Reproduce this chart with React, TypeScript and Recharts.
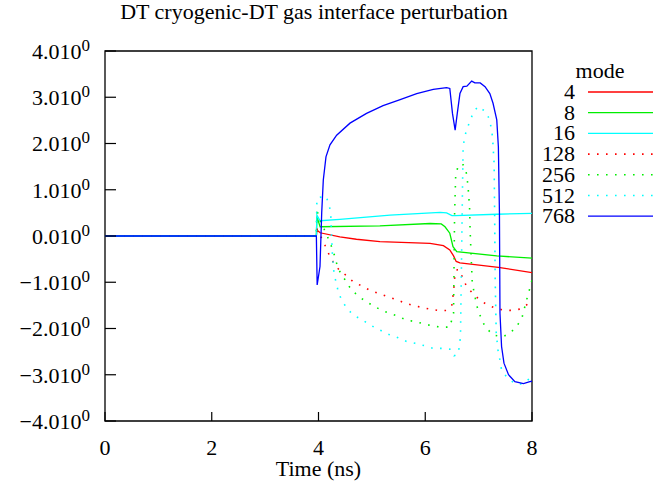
import React from "react";
import { LineChart, Line, XAxis, YAxis, ReferenceArea, Label } from "recharts";

const FONT = '"Liberation Serif", "Times New Roman", serif';

const xTicks = [0, 2, 4, 6, 8];
const yTicks = [-4, -3, -2, -1, 0, 1, 2, 3, 4];
const yTickLabels = [
  "\u22124.010",
  "\u22123.010",
  "\u22122.010",
  "\u22121.010",
  "0.010",
  "1.010",
  "2.010",
  "3.010",
  "4.010",
];
const yTickExp = "0";

const title = "DT cryogenic-DT gas interface perturbation";
const xLabel = "Time (ns)";
const legendTitle = "mode";

// [time (ns), amplitude]
const mode4 = [
  [0, 0], [3.96, 0], [3.97, 0.13], [4.03, 0.07], [4.4, -0.02], [4.71, -0.07],
  [5.15, -0.12], [6.09, -0.16], [6.34, -0.21], [6.46, -0.3], [6.53, -0.43],
  [6.58, -0.55], [6.65, -0.58], [7.37, -0.68], [8.0, -0.79],
];
const mode8 = [
  [0, 0], [3.96, 0], [3.97, 0.42], [4.03, 0.2], [5.15, 0.22], [6.09, 0.27],
  [6.3, 0.26], [6.37, 0.2], [6.46, 0.06], [6.52, -0.23], [6.59, -0.34],
  [7.34, -0.43], [8.0, -0.48],
];
const mode16 = [
  [0, 0], [3.96, 0], [3.97, 0.45], [4.03, 0.33], [4.4, 0.36], [5.34, 0.45],
  [6.28, 0.51], [6.4, 0.5], [6.5, 0.44], [6.56, 0.44], [7.34, 0.47], [8.0, 0.49],
];
const mode128 = [
  [0, 0], [3.96, 0], [3.98, 0.13], [4.0, 0.09], [4.08, -0.1], [4.15, -0.27],
  [4.215, -0.45], [4.31, -0.63], [4.4, -0.75], [4.53, -0.86], [4.65, -0.99],
  [4.81, -1.08], [4.96, -1.17], [5.12, -1.24], [5.29, -1.31], [5.45, -1.37],
  [5.6, -1.44], [5.76, -1.5], [5.92, -1.54], [6.08, -1.58], [6.24, -1.61],
  [6.4, -1.61], [6.5, -1.49], [6.53, -1.2], [6.56, -0.78], [6.6, -0.73],
  [6.65, -0.74], [6.7, -0.91], [6.78, -1.1], [6.89, -1.24], [7.01, -1.37],
  [7.15, -1.48], [7.31, -1.56], [7.46, -1.6], [7.62, -1.61], [7.78, -1.58],
  [7.9, -1.49], [8.0, -1.36],
];
const mode256 = [
  [0, 0], [3.96, 0], [3.97, 0.6], [4.0, 0.4], [4.07, 0.24], [4.14, 0.06],
  [4.215, -0.14], [4.28, -0.34], [4.33, -0.56], [4.39, -0.75], [4.45, -0.86],
  [4.53, -1.01], [4.62, -1.17], [4.75, -1.3], [4.89, -1.42], [5.03, -1.51],
  [5.17, -1.6], [5.33, -1.67], [5.48, -1.73], [5.65, -1.82], [5.81, -1.85],
  [5.98, -1.9], [6.15, -1.95], [6.31, -1.97], [6.46, -1.97], [6.53, -1.67],
  [6.55, 0.5], [6.57, 1.3], [6.62, 1.54], [6.71, 1.54], [6.76, 1.44],
  [6.8, 1.1], [6.83, 0.63], [6.84, 0.15], [6.86, -0.45], [6.88, -1.0],
  [6.92, -1.25], [6.99, -1.62], [7.12, -1.96], [7.27, -2.14], [7.45, -2.18],
  [7.59, -2.1], [7.71, -1.96], [7.81, -1.78], [7.89, -1.42], [7.95, -1.17],
  [8.0, -0.95],
];
const mode512 = [
  [0, 0], [3.96, 0], [3.97, 0.81], [4.04, 0.84], [4.14, 0.86], [4.2, 0.67],
  [4.23, 0.49], [4.24, 0.13], [4.26, -0.37], [4.29, -0.81], [4.37, -1.2],
  [4.43, -1.38], [4.53, -1.56], [4.62, -1.67], [4.76, -1.78], [4.9, -1.87],
  [5.04, -1.97], [5.18, -2.05], [5.34, -2.14], [5.49, -2.2], [5.65, -2.28],
  [5.81, -2.32], [5.98, -2.37], [6.15, -2.43], [6.33, -2.43], [6.48, -2.45],
  [6.54, -2.59], [6.62, -2.55], [6.66, -2.18], [6.68, -0.5], [6.7, 1.21],
  [6.71, 1.93], [6.74, 2.15], [6.78, 2.31], [6.84, 2.49], [6.9, 2.67],
  [6.99, 2.8], [7.13, 2.69], [7.21, 2.51], [7.26, 2.15], [7.29, 1.57],
  [7.3, 0.49], [7.31, -0.95], [7.33, -2.1], [7.37, -2.54], [7.4, -2.68],
  [7.43, -2.9], [7.49, -3.0], [7.56, -3.08], [7.68, -3.19], [7.81, -3.2],
  [7.96, -3.08], [8.0, -3.05],
];
const mode768 = [
  [0, 0], [3.96, 0], [3.975, -1.06], [4.028, -0.66], [4.06, 0.5], [4.09, 1.21],
  [4.14, 1.71], [4.215, 1.97], [4.34, 2.18], [4.59, 2.44], [4.9, 2.65],
  [5.21, 2.82], [5.53, 2.95], [5.84, 3.08], [6.15, 3.17], [6.4, 3.21],
  [6.46, 3.19], [6.51, 2.65], [6.56, 2.29], [6.6, 2.65], [6.65, 3.08],
  [6.71, 3.23], [6.78, 3.24], [6.87, 3.35], [6.93, 3.31], [7.03, 3.31],
  [7.12, 3.23], [7.21, 3.08], [7.27, 2.87], [7.34, 2.51], [7.37, 1.93],
  [7.39, 0.5], [7.4, -1.67], [7.43, -2.39], [7.475, -2.75], [7.56, -3.0],
  [7.68, -3.15], [7.84, -3.19], [7.96, -3.15], [8.0, -3.14],
];

const series = [
  { name: "4", points: mode4, color: "#ff0000", dotted: false },
  { name: "8", points: mode8, color: "#00ee00", dotted: false },
  { name: "16", points: mode16, color: "#00ffff", dotted: false },
  { name: "128", points: mode128, color: "#ff0000", dotted: true },
  { name: "256", points: mode256, color: "#00ee00", dotted: true },
  { name: "512", points: mode512, color: "#00ffff", dotted: true },
  { name: "768", points: mode768, color: "#0000ff", dotted: false },
];

const DOTS = "1.6 7.4";
const FS = 22;
const PLOT_LEFT = 105;
const PLOT_BOTTOM = 421;

const YTick = (props: any) => {
  const { y, payload } = props;
  const label = yTickLabels[yTicks.indexOf(payload.value)];
  return (
    <g>
      <line x1={PLOT_LEFT} x2={PLOT_LEFT + 11} y1={y} y2={y} stroke="#000" strokeWidth={1.2} />
      <text x={PLOT_LEFT - 15} y={y} dy="0.355em" textAnchor="end" fontFamily={FONT} fontSize={FS} fill="#000">
        {label}
        <tspan dy={-8} fontSize={17}>{yTickExp}</tspan>
      </text>
    </g>
  );
};

const XTick = (props: any) => {
  const { x, payload } = props;
  return (
    <g>
      <line x1={x} x2={x} y1={PLOT_BOTTOM} y2={PLOT_BOTTOM - 9} stroke="#000" strokeWidth={1.2} />
      <text x={x} y={PLOT_BOTTOM + 18} dy="0.71em" textAnchor="middle" fontFamily={FONT} fontSize={FS} fill="#000">
        {payload.value}
      </text>
    </g>
  );
};

export default function App() {
  return (
    <div style={{ position: "absolute", left: 0, top: 0, width: 664, height: 484, background: "#fff", fontFamily: FONT }}>
      <LineChart width={664} height={484} margin={{ top: 51, right: 132, bottom: 23, left: 45 }}>
        <XAxis
          type="number"
          dataKey="t"
          domain={[0, 8]}
          ticks={xTicks}
          interval={0}
          allowDataOverflow
          axisLine={false}
          tickLine={false}
          height={40}
          tick={<XTick />}
        >
          <Label value={xLabel} position="bottom" offset={-1} fontFamily={FONT} fontSize={FS} fill="#000" />
        </XAxis>
        <YAxis
          type="number"
          domain={[-4, 4]}
          ticks={yTicks}
          interval={0}
          allowDataOverflow
          axisLine={false}
          tickLine={false}
          width={60}
          tick={<YTick />}
        />
        <ReferenceArea x1={0} x2={8} y1={-4} y2={4} fill="none" stroke="#000" strokeWidth={1.3} />
        {series.map((s) => (
          <Line
            key={s.name}
            data={s.points.map(([t, v]) => ({ t, v }))}
            dataKey="v"
            name={s.name}
            type="linear"
            stroke={s.color}
            strokeWidth={s.dotted ? 1.6 : 1.3}
            strokeDasharray={s.dotted ? DOTS : undefined}
            dot={false}
            activeDot={false}
            isAnimationActive={false}
          />
        ))}
      </LineChart>
      <svg
        width={664}
        height={484}
        style={{ position: "absolute", left: 0, top: 0, pointerEvents: "none" }}
      >
        <text x={314} y={19} textAnchor="middle" fontFamily={FONT} fontSize={FS} fill="#000">
          {title}
        </text>
        <text x={600} y={78} textAnchor="middle" fontFamily={FONT} fontSize={FS} fill="#000">
          {legendTitle}
        </text>
        {series.map((s, i) => {
          const ly = 92 + i * 20.7;
          return (
            <g key={s.name}>
              <text x={575} y={ly + 7} textAnchor="end" fontFamily={FONT} fontSize={FS} fill="#000">
                {s.name}
              </text>
              <line
                x1={588}
                x2={653}
                y1={ly}
                y2={ly}
                stroke={s.color}
                strokeWidth={s.dotted ? 1.6 : 1.3}
                strokeDasharray={s.dotted ? DOTS : undefined}
              />
            </g>
          );
        })}
      </svg>
    </div>
  );
}
